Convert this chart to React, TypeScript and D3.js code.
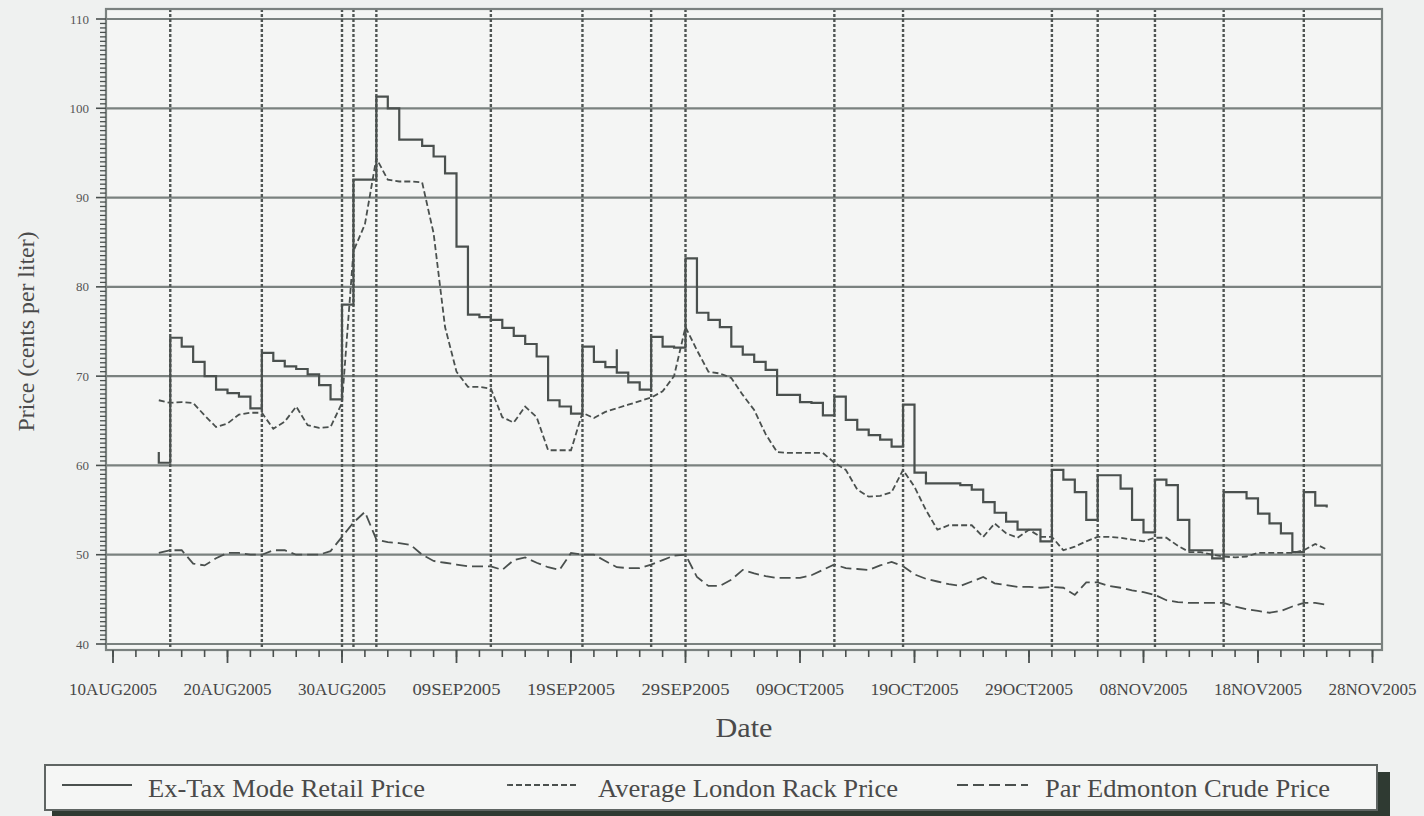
import * as d3 from 'd3';

// Ex-Tax Mode Retail Price (step series), cents per liter
const retail: [string, number][] = [
  ['2005-08-14', 61.5], ['2005-08-14', 60.3], ['2005-08-15', 74.3], ['2005-08-16', 73.3],
  ['2005-08-17', 71.6], ['2005-08-18', 70.0], ['2005-08-19', 68.5], ['2005-08-20', 68.1],
  ['2005-08-21', 67.7], ['2005-08-22', 66.4], ['2005-08-23', 72.6], ['2005-08-24', 71.7],
  ['2005-08-25', 71.1], ['2005-08-26', 70.8], ['2005-08-27', 70.2], ['2005-08-28', 69.0],
  ['2005-08-29', 67.4], ['2005-08-30', 78.0], ['2005-08-31', 92.0], ['2005-09-01', 92.0],
  ['2005-09-02', 101.3], ['2005-09-03', 100.0], ['2005-09-04', 96.5], ['2005-09-05', 96.5],
  ['2005-09-06', 95.8], ['2005-09-07', 94.6], ['2005-09-08', 92.7], ['2005-09-09', 84.5],
  ['2005-09-10', 76.9], ['2005-09-11', 76.6], ['2005-09-12', 76.3], ['2005-09-13', 75.4],
  ['2005-09-14', 74.5], ['2005-09-15', 73.6], ['2005-09-16', 72.2], ['2005-09-17', 67.3],
  ['2005-09-18', 66.6], ['2005-09-19', 65.8], ['2005-09-20', 73.3], ['2005-09-21', 71.6],
  ['2005-09-22', 71.0], ['2005-09-23', 73.0], ['2005-09-23', 70.4], ['2005-09-24', 69.3],
  ['2005-09-25', 68.5], ['2005-09-26', 74.4], ['2005-09-27', 73.3], ['2005-09-28', 73.2],
  ['2005-09-29', 83.2], ['2005-09-30', 77.1], ['2005-10-01', 76.3], ['2005-10-02', 75.5],
  ['2005-10-03', 73.3], ['2005-10-04', 72.4], ['2005-10-05', 71.6], ['2005-10-06', 70.7],
  ['2005-10-07', 67.9], ['2005-10-08', 67.9], ['2005-10-09', 67.1], ['2005-10-10', 67.0],
  ['2005-10-11', 65.6], ['2005-10-12', 67.7], ['2005-10-13', 65.1], ['2005-10-14', 64.0],
  ['2005-10-15', 63.4], ['2005-10-16', 62.9], ['2005-10-17', 62.1], ['2005-10-18', 66.8],
  ['2005-10-19', 59.2], ['2005-10-20', 58.0], ['2005-10-21', 58.0], ['2005-10-22', 58.0],
  ['2005-10-23', 57.8], ['2005-10-24', 57.3], ['2005-10-25', 55.9], ['2005-10-26', 54.7],
  ['2005-10-27', 53.7], ['2005-10-28', 52.8], ['2005-10-29', 52.8], ['2005-10-30', 51.5],
  ['2005-10-31', 59.5], ['2005-11-01', 58.4], ['2005-11-02', 57.0], ['2005-11-03', 53.9],
  ['2005-11-04', 58.9], ['2005-11-05', 58.9], ['2005-11-06', 57.4], ['2005-11-07', 53.9],
  ['2005-11-08', 52.5], ['2005-11-09', 58.4], ['2005-11-10', 57.8], ['2005-11-11', 53.9],
  ['2005-11-12', 50.5], ['2005-11-13', 50.5], ['2005-11-14', 49.6], ['2005-11-15', 57.0],
  ['2005-11-16', 57.0], ['2005-11-17', 56.3], ['2005-11-18', 54.6], ['2005-11-19', 53.5],
  ['2005-11-20', 52.4], ['2005-11-21', 50.3], ['2005-11-22', 57.0], ['2005-11-23', 55.5],
  ['2005-11-24', 55.3],
];

// Average London Rack Price
const rack: [string, number][] = [
  ['2005-08-14', 67.3], ['2005-08-15', 67.0], ['2005-08-16', 67.1], ['2005-08-17', 67.0],
  ['2005-08-18', 65.6], ['2005-08-19', 64.3], ['2005-08-20', 64.7], ['2005-08-21', 65.7],
  ['2005-08-22', 65.9], ['2005-08-23', 65.9], ['2005-08-24', 64.1], ['2005-08-25', 64.9],
  ['2005-08-26', 66.6], ['2005-08-27', 64.5], ['2005-08-28', 64.2], ['2005-08-29', 64.3],
  ['2005-08-30', 67.0], ['2005-08-31', 84.0], ['2005-09-01', 87.0], ['2005-09-02', 94.4],
  ['2005-09-03', 92.0], ['2005-09-04', 91.8], ['2005-09-05', 91.8], ['2005-09-06', 91.7],
  ['2005-09-07', 86.0], ['2005-09-08', 75.5], ['2005-09-09', 70.5], ['2005-09-10', 68.8],
  ['2005-09-11', 68.8], ['2005-09-12', 68.6], ['2005-09-13', 65.4], ['2005-09-14', 64.8],
  ['2005-09-15', 66.6], ['2005-09-16', 65.4], ['2005-09-17', 61.7], ['2005-09-18', 61.7],
  ['2005-09-19', 61.7], ['2005-09-20', 65.9], ['2005-09-21', 65.3], ['2005-09-22', 66.0],
  ['2005-09-23', 66.4], ['2005-09-24', 66.8], ['2005-09-25', 67.2], ['2005-09-26', 67.6],
  ['2005-09-27', 68.3], ['2005-09-28', 70.0], ['2005-09-29', 75.5], ['2005-09-30', 72.9],
  ['2005-10-01', 70.5], ['2005-10-02', 70.3], ['2005-10-03', 69.8], ['2005-10-04', 67.9],
  ['2005-10-05', 66.2], ['2005-10-06', 63.5], ['2005-10-07', 61.5], ['2005-10-08', 61.4],
  ['2005-10-09', 61.4], ['2005-10-10', 61.4], ['2005-10-11', 61.4], ['2005-10-12', 60.3],
  ['2005-10-13', 59.5], ['2005-10-14', 57.3], ['2005-10-15', 56.5], ['2005-10-16', 56.6],
  ['2005-10-17', 57.0], ['2005-10-18', 59.5], ['2005-10-19', 57.6], ['2005-10-20', 55.0],
  ['2005-10-21', 52.8], ['2005-10-22', 53.3], ['2005-10-23', 53.3], ['2005-10-24', 53.3],
  ['2005-10-25', 52.0], ['2005-10-26', 53.5], ['2005-10-27', 52.4], ['2005-10-28', 51.9],
  ['2005-10-29', 52.8], ['2005-10-30', 52.0], ['2005-10-31', 52.0], ['2005-11-01', 50.5],
  ['2005-11-02', 50.9], ['2005-11-03', 51.5], ['2005-11-04', 52.0], ['2005-11-05', 52.0],
  ['2005-11-06', 51.9], ['2005-11-07', 51.7], ['2005-11-08', 51.5], ['2005-11-09', 51.9],
  ['2005-11-10', 51.9], ['2005-11-11', 51.0], ['2005-11-12', 50.3], ['2005-11-13', 50.3],
  ['2005-11-14', 50.0], ['2005-11-15', 49.8], ['2005-11-16', 49.7], ['2005-11-17', 49.8],
  ['2005-11-18', 50.2], ['2005-11-19', 50.2], ['2005-11-20', 50.2], ['2005-11-21', 50.2],
  ['2005-11-22', 50.5], ['2005-11-23', 51.2], ['2005-11-24', 50.6],
];

// Par Edmonton Crude Price
const crude: [string, number][] = [
  ['2005-08-14', 50.2], ['2005-08-15', 50.5], ['2005-08-16', 50.5], ['2005-08-17', 49.0],
  ['2005-08-18', 48.8], ['2005-08-19', 49.6], ['2005-08-20', 50.2], ['2005-08-21', 50.2],
  ['2005-08-22', 50.0], ['2005-08-23', 50.0], ['2005-08-24', 50.5], ['2005-08-25', 50.5],
  ['2005-08-26', 50.0], ['2005-08-27', 50.0], ['2005-08-28', 50.0], ['2005-08-29', 50.4],
  ['2005-08-30', 52.0], ['2005-08-31', 53.6], ['2005-09-01', 54.8], ['2005-09-02', 51.7],
  ['2005-09-03', 51.4], ['2005-09-04', 51.3], ['2005-09-05', 51.1], ['2005-09-06', 50.0],
  ['2005-09-07', 49.3], ['2005-09-08', 49.1], ['2005-09-09', 48.9], ['2005-09-10', 48.7],
  ['2005-09-11', 48.7], ['2005-09-12', 48.7], ['2005-09-13', 48.3], ['2005-09-14', 49.4],
  ['2005-09-15', 49.7], ['2005-09-16', 49.1], ['2005-09-17', 48.6], ['2005-09-18', 48.3],
  ['2005-09-19', 50.2], ['2005-09-20', 50.0], ['2005-09-21', 50.0], ['2005-09-22', 49.3],
  ['2005-09-23', 48.6], ['2005-09-24', 48.5], ['2005-09-25', 48.5], ['2005-09-26', 48.9],
  ['2005-09-27', 49.4], ['2005-09-28', 49.9], ['2005-09-29', 50.0], ['2005-09-30', 47.5],
  ['2005-10-01', 46.5], ['2005-10-02', 46.5], ['2005-10-03', 47.2], ['2005-10-04', 48.3],
  ['2005-10-05', 47.9], ['2005-10-06', 47.6], ['2005-10-07', 47.4], ['2005-10-08', 47.4],
  ['2005-10-09', 47.4], ['2005-10-10', 47.7], ['2005-10-11', 48.3], ['2005-10-12', 48.9],
  ['2005-10-13', 48.5], ['2005-10-14', 48.4], ['2005-10-15', 48.3], ['2005-10-16', 48.8],
  ['2005-10-17', 49.2], ['2005-10-18', 48.7], ['2005-10-19', 47.8], ['2005-10-20', 47.3],
  ['2005-10-21', 47.0], ['2005-10-22', 46.7], ['2005-10-23', 46.5], ['2005-10-24', 47.0],
  ['2005-10-25', 47.5], ['2005-10-26', 46.8], ['2005-10-27', 46.6], ['2005-10-28', 46.4],
  ['2005-10-29', 46.4], ['2005-10-30', 46.3], ['2005-10-31', 46.4], ['2005-11-01', 46.3],
  ['2005-11-02', 45.5], ['2005-11-03', 46.9], ['2005-11-04', 46.9], ['2005-11-05', 46.5],
  ['2005-11-06', 46.3], ['2005-11-07', 46.0], ['2005-11-08', 45.8], ['2005-11-09', 45.5],
  ['2005-11-10', 44.9], ['2005-11-11', 44.7], ['2005-11-12', 44.6], ['2005-11-13', 44.6],
  ['2005-11-14', 44.6], ['2005-11-15', 44.6], ['2005-11-16', 44.2], ['2005-11-17', 43.9],
  ['2005-11-18', 43.7], ['2005-11-19', 43.5], ['2005-11-20', 43.7], ['2005-11-21', 44.2],
  ['2005-11-22', 44.6], ['2005-11-23', 44.6], ['2005-11-24', 44.4],
];

// dates of the vertical reference lines
const eventDates = [
  '2005-08-15', '2005-08-23', '2005-08-30', '2005-08-31', '2005-09-02', '2005-09-12',
  '2005-09-20', '2005-09-26', '2005-09-29', '2005-10-12', '2005-10-18', '2005-10-31',
  '2005-11-04', '2005-11-09', '2005-11-15', '2005-11-22',
];

const yTicks = [40, 50, 60, 70, 80, 90, 100, 110];
const xTickDates = [
  '2005-08-10', '2005-08-20', '2005-08-30', '2005-09-09', '2005-09-19', '2005-09-29',
  '2005-10-09', '2005-10-19', '2005-10-29', '2005-11-08', '2005-11-18', '2005-11-28',
];
const xTickLabels = [
  '10AUG2005', '20AUG2005', '30AUG2005', '09SEP2005', '19SEP2005', '29SEP2005',
  '09OCT2005', '19OCT2005', '29OCT2005', '08NOV2005', '18NOV2005', '28NOV2005',
];
const legendLabels = ['Ex-Tax Mode Retail Price', 'Average London Rack Price', 'Par Edmonton Crude Price'];

const W = 1424;
const H = 816;
const frame = { left: 106, right: 1382, top: 9, bottom: 650 };
const ink = '#4a504e';
const gridColor = '#7a817f';
const font = '"Liberation Serif", "DejaVu Serif", serif';

const parse = d3.utcParse('%Y-%m-%d');

export default function App() {
  const x = d3.scaleUtc()
    .domain([parse('2005-08-10')!, parse('2005-11-28')!])
    .range([113, 1372.5]);
  const y = d3.scaleLinear().domain([40, 110]).range([644, 19]);

  const px = (d: [string, number]) => x(parse(d[0])!);
  const py = (d: [string, number]) => y(d[1]);
  const stepLine = d3.line<[string, number]>().x(px).y(py).curve(d3.curveStepAfter);
  const plainLine = d3.line<[string, number]>().x(px).y(py);

  const dayTicks = d3.utcDay.range(parse('2005-08-10')!, d3.utcDay.offset(parse('2005-11-28')!, 1))
    .filter((_, i) => i % 2 === 0);
  const minorY = d3.range(40, 110.01, 0.5).filter(v => v % 10 !== 0);

  const legendItems = [
    { label: legendLabels[0], x0: 62, x1: 132, tx: 148, tw: 277, dash: undefined },
    { label: legendLabels[1], x0: 507, x1: 578, tx: 598, tw: 300, dash: '6,3' },
    { label: legendLabels[2], x0: 957, x1: 1028, tx: 1045, tw: 285, dash: '11,5' },
  ];

  return (
    <svg width={W} height={H} style={{ position: 'absolute', left: 0, top: 0 }} fontFamily={font}>
      <rect width={W} height={H} fill="#eff1f0" />
      <rect x={frame.left} y={frame.top} width={frame.right - frame.left} height={frame.bottom - frame.top}
        fill="#f4f5f4" />

      {/* horizontal grid */}
      {yTicks.map(t => (
        <line key={'g' + t} x1={frame.left} x2={frame.right} y1={y(t)} y2={y(t)}
          stroke={gridColor} strokeWidth={2.2} />
      ))}

      {/* vertical event lines */}
      {eventDates.map(d => (
        <line key={'e' + d} x1={x(parse(d)!)} x2={x(parse(d)!)} y1={frame.top} y2={frame.bottom}
          stroke="#4f5553" strokeWidth={2.4} strokeDasharray="3,2" />
      ))}

      {/* series */}
      <path d={plainLine(crude)!} fill="none" stroke={ink} strokeWidth={1.8} strokeDasharray="11,5" />
      <path d={plainLine(rack)!} fill="none" stroke={ink} strokeWidth={1.8} strokeDasharray="6,3" />
      <path d={stepLine(retail)!} fill="none" stroke={ink} strokeWidth={2.2} />

      {/* frame */}
      <rect x={frame.left} y={frame.top} width={frame.right - frame.left} height={frame.bottom - frame.top}
        fill="none" stroke={gridColor} strokeWidth={2.2} />

      {/* y axis */}
      {minorY.map(v => (
        <line key={'my' + v} x1={100} x2={frame.left} y1={y(v)} y2={y(v)} stroke={ink} strokeWidth={1.3} />
      ))}
      {yTicks.map(t => (
        <g key={'yt' + t}>
          <line x1={96} x2={frame.left} y1={y(t)} y2={y(t)} stroke={ink} strokeWidth={1.6} />
          <text x={89} y={y(t) + 4.5} textAnchor="end" fontSize={13} fill="#555">{t}</text>
        </g>
      ))}
      <text transform={`translate(34,${(y(40) + y(110)) / 2}) rotate(-90)`} textAnchor="middle"
        fontSize={23} fill="#4a4a4a" textLength={200} lengthAdjust="spacingAndGlyphs">
        Price (cents per liter)
      </text>

      {/* x axis */}
      {dayTicks.map(d => (
        <line key={'mx' + d.getTime()} x1={x(d)} x2={x(d)} y1={frame.bottom} y2={frame.bottom + 7}
          stroke={ink} strokeWidth={1.6} />
      ))}
      {xTickDates.map((d, i) => (
        <g key={'xt' + d}>
          <line x1={x(parse(d)!)} x2={x(parse(d)!)} y1={frame.bottom} y2={frame.bottom + 13}
            stroke={ink} strokeWidth={1.8} />
          <text x={x(parse(d)!)} y={695} textAnchor="middle" fontSize={16} fill="#474747"
            textLength={88} lengthAdjust="spacingAndGlyphs">{xTickLabels[i]}</text>
        </g>
      ))}
      <text x={(frame.left + frame.right) / 2} y={737} textAnchor="middle" fontSize={27} fill="#4a4a4a"
        textLength={57} lengthAdjust="spacingAndGlyphs">Date</text>

      {/* legend */}
      <rect x={52} y={772} width={1338} height={44} fill="#2f3a32" />
      <rect x={45} y={765} width={1332} height={45} fill="#f5f6f5" stroke="#5f6563" strokeWidth={2} />
      {legendItems.map(it => (
        <g key={it.label}>
          <line x1={it.x0} x2={it.x1} y1={785} y2={785} stroke={ink} strokeWidth={1.8}
            strokeDasharray={it.dash} />
          <text x={it.tx} y={797} fontSize={25} fill="#4a4a4a" textLength={it.tw}
            lengthAdjust="spacingAndGlyphs">{it.label}</text>
        </g>
      ))}
    </svg>
  );
}
